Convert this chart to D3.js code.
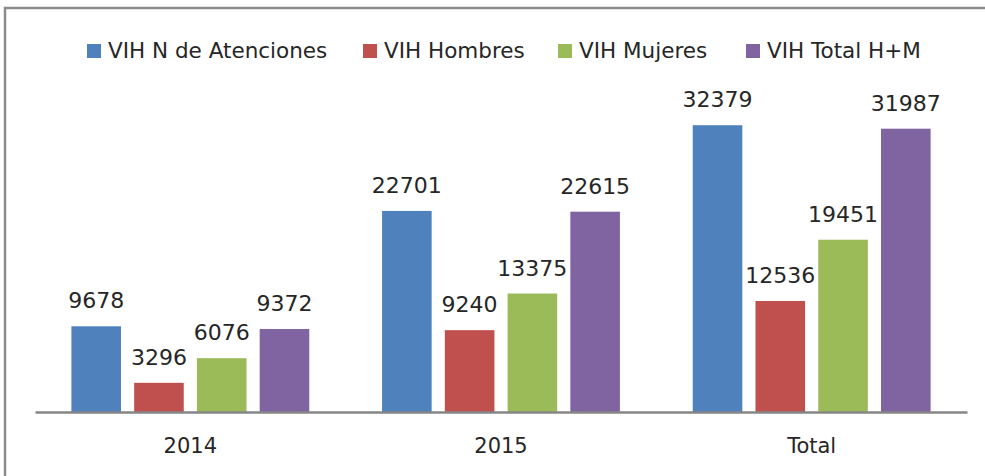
<!DOCTYPE html>
<title>VIH atenciones</title>
<meta charset="utf-8">
<style>
  body { margin: 0; background: #fff; }
  svg { display: block; font-family: "DejaVu Sans", sans-serif; }
  .val { font-size: 22px; fill: #262626; text-anchor: middle; }
  .leg { font-size: 21.5px; fill: #262626; }
</style>
<body>
<script src="https://d3js.org/d3.v7.min.js"></script>
<script>
  // data
  var categories = ["2014", "2015", "Total"];
  var seriesNames = ["VIH N de Atenciones", "VIH Hombres", "VIH Mujeres", "VIH Total H+M"];
  var colors = ["#4F81BD", "#C0504D", "#9BBB59", "#8064A2"];
  var atenciones = [9678, 22701, 32379];
  var hombres = [3296, 9240, 12536];
  var mujeres = [6076, 13375, 19451];
  var totalHM = [9372, 22615, 31987];
  var series = [atenciones, hombres, mujeres, totalHM];

  var W = 985, H = 476;
  var svg = d3.select("body").append("svg")
      .attr("width", W)
      .attr("height", H);

  // outer frame (only top and left visible)
  svg.append("rect")
      .attr("x", 5).attr("y", 8)
      .attr("width", W + 10).attr("height", H + 10)
      .attr("fill", "none")
      .attr("stroke", "#8c8c8c")
      .attr("stroke-width", 2.5);

  var x0 = d3.scaleBand().domain(categories).range([35, 967]);
  var x1 = d3.scaleBand().domain(d3.range(series.length))
      .range([0, x0.bandwidth()]).paddingInner(0.21).paddingOuter(0.58);
  var y = d3.scaleLinear().domain([0, 35000]).range([412, 102]);

  var groups = svg.selectAll("g.grp")
      .data(categories)
      .enter().append("g")
      .attr("class", "grp")
      .attr("transform", function(d) { return "translate(" + x0(d) + ",0)"; });

  groups.each(function(cat, ci) {
    var g = d3.select(this);
    var rows = series.map(function(s, si) { return {si: si, v: s[ci]}; });
    g.selectAll("rect")
        .data(rows)
        .enter().append("rect")
        .attr("x", function(d) { return x1(d.si); })
        .attr("y", function(d) { return y(d.v); })
        .attr("width", x1.bandwidth())
        .attr("height", function(d) { return y(0) - y(d.v); })
        .attr("fill", function(d) { return colors[d.si]; });
    g.selectAll("text.val")
        .data(rows)
        .enter().append("text")
        .attr("class", "val")
        .attr("x", function(d) { return x1(d.si) + x1.bandwidth() / 2; })
        .attr("y", function(d) { return y(d.v) - 18; })
        .text(function(d) { return d.v; });
  });

  // x axis
  var xAxis = svg.append("g")
      .attr("transform", "translate(0," + y(0) + ")")
      .call(d3.axisBottom(x0).tickSize(0).tickPadding(26));
  xAxis.attr("font-family", null).attr("font-size", null);
  xAxis.select(".domain").attr("stroke", "#868686").attr("stroke-width", 2.5);
  xAxis.selectAll(".tick text")
      .style("font-size", "21px")
      .style("font-family", "'DejaVu Sans', sans-serif")
      .style("fill", "#262626");

  // legend
  var legStarts = [87, 363, 558, 746];
  var leg = svg.selectAll("g.leg")
      .data(seriesNames)
      .enter().append("g")
      .attr("transform", function(d, i) { return "translate(" + legStarts[i] + ",44)"; });
  leg.append("rect")
      .attr("width", 14).attr("height", 14)
      .attr("fill", function(d, i) { return colors[i]; });
  leg.append("text")
      .attr("class", "leg")
      .attr("x", 21)
      .attr("y", 14)
      .text(function(d) { return d; });
</script>
</body>
